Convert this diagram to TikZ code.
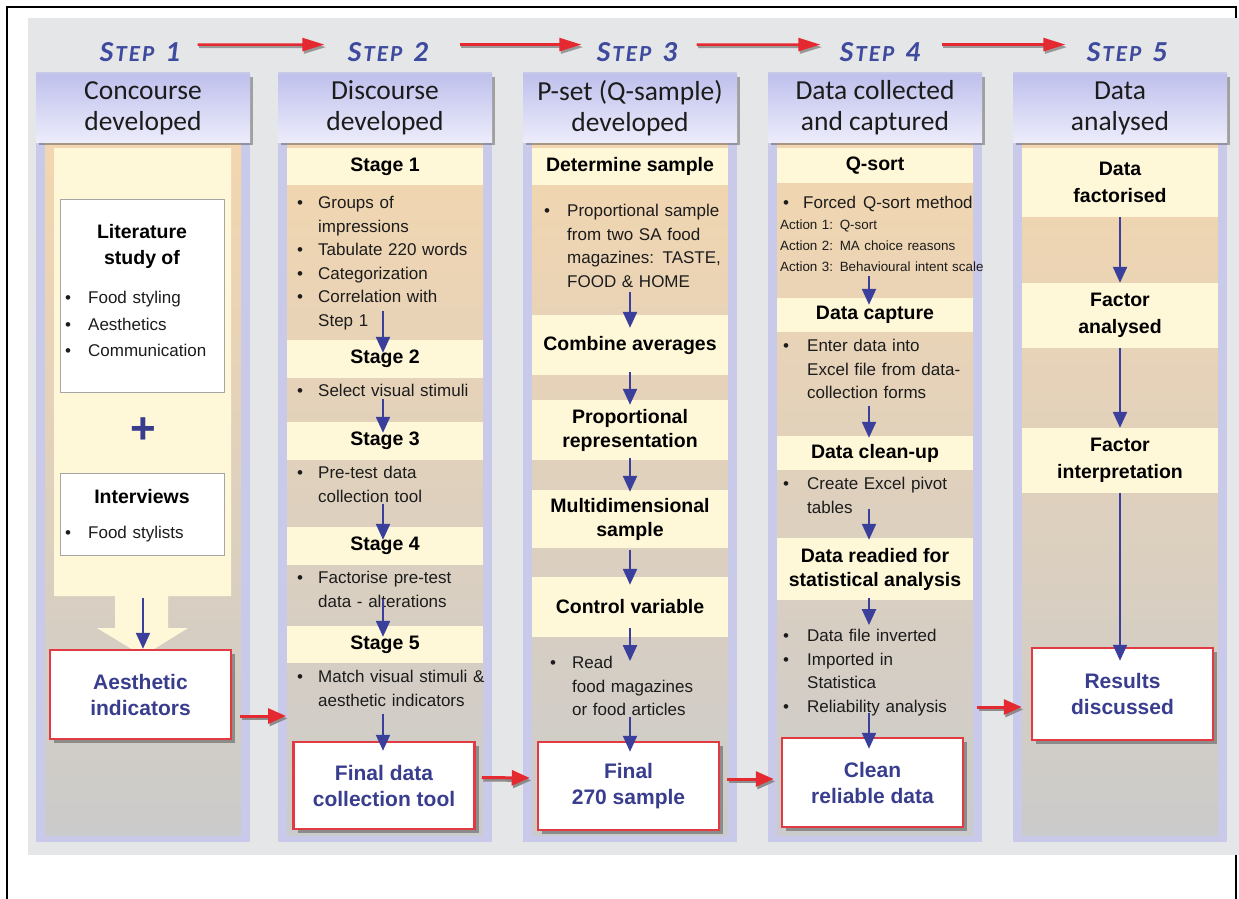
\documentclass[tikz,border=0pt]{standalone}
\usepackage{fontspec}
\setmainfont{Liberation Sans}
\newfontfamily\hdfont{Carlito}
\usepackage{tikz}
\usetikzlibrary{arrows.meta, positioning, calc, shadows}
\definecolor{bggrey}{HTML}{E5E6E8}
\definecolor{lav}{HTML}{C9CAE9}
\definecolor{hdtop}{HTML}{BFC0EC}
\definecolor{hdbot}{HTML}{ECECFB}
\definecolor{paneltop}{HTML}{F3D6AF}
\definecolor{panelbot}{HTML}{CBCBCB}
\definecolor{bandyel}{HTML}{FFF8D8}
\definecolor{stepblue}{HTML}{3D4A9E}
\definecolor{boxblue}{HTML}{393D8E}
\definecolor{arrblue}{HTML}{3B3F9C}
\definecolor{arrred}{HTML}{E42A30}
\definecolor{boxred}{HTML}{E23A43}
\definecolor{txt}{HTML}{1C1C1C}
\newcommand{\bul}[2][21pt]{\hangindent=#1\hangafter=1\noindent\makebox[#1][l]{\textbullet}#2\par}
\newcommand{\stepname}[1]{{\fontsize{29}{29}\selectfont S}\hspace{2pt}{\fontsize{23}{23}\selectfont T\hspace{2pt}E\hspace{2pt}P}\hspace{11pt}{\fontsize{29}{29}\selectfont #1}}
\tikzset{
  hdrbox/.style={
    rectangle, minimum width=214pt, minimum height=68pt, inner sep=0pt,
    top color=hdtop, bottom color=hdbot,
    drop shadow={shadow xshift=3pt, shadow yshift=-3pt, opacity=.45, fill=black!70},
    font=\hdfont\fontsize{27.5}{31}\selectfont, align=center, text=txt,
  },
  stageband/.style={
    rectangle, fill=bandyel, minimum width=196pt, inner sep=0pt,
    font=\bfseries\fontsize{19.5}{24}\selectfont, align=center, text=black,
  },
  blist/.style={
    anchor=mid west, yshift=-4pt, inner sep=0pt, text width=205pt, align=left,
    font=\fontsize{17}{23.5}\selectfont, text=txt,
  },
  whitebox/.style={rectangle, draw=black!35, line width=0.8pt, fill=white, inner sep=0pt},
  redbox/.style={
    rectangle, draw=boxred, line width=2.5pt, fill=white,
    minimum width=181pt, minimum height=88pt,
    drop shadow={shadow xshift=4pt, shadow yshift=-4pt, opacity=.5, fill=black!70},
    font=\bfseries\fontsize{21}{26}\selectfont, text=boxblue, align=center,
  },
  steplabel/.style={font=\hdfont\bfseries\itshape, text=stepblue, anchor=base},
  blarrow/.style={draw=arrblue, line width=2.2pt, -{Triangle[length=16pt, width=14pt]}},
  rdarrow/.style={
    draw=arrred, line width=3pt, -{Triangle[length=18pt, width=15pt]},
    preaction={draw=black!45, line width=3pt, -{Triangle[length=18pt, width=15pt]},
      transform canvas={xshift=1.5pt, yshift=-2.5pt}},
  },
  steparrow/.style={
    draw=arrred, line width=2.5pt, -{Triangle[length=22pt, width=13pt]},
    preaction={draw=black!40, line width=2pt, -{Triangle[length=22pt, width=13pt]},
      transform canvas={xshift=1.5pt, yshift=-2.5pt}},
  },
}
\begin{document}
\begin{tikzpicture}[x=1pt, y=-1pt]
  \useasboundingbox (0,0) rectangle (1239,899);

  % frame and background
  \draw[line width=2pt] (7,899) -- (7,7) -- (1236,7) -- (1236,899);
  \fill[bggrey] (28,18) rectangle (1239,855);

  % columns
  \fill[lav] (36,72) rectangle (250,842);
  \fill[lav] (278,72) rectangle (492,842);
  \fill[lav] (523,72) rectangle (737,842);
  \fill[lav] (768,72) rectangle (982,842);
  \fill[lav] (1013,72) rectangle (1227,842);
  \shade[top color=paneltop, bottom color=panelbot] (45,142) rectangle (241,835);
  \shade[top color=paneltop, bottom color=panelbot] (287,142) rectangle (483,835);
  \shade[top color=paneltop, bottom color=panelbot] (532,142) rectangle (728,835);
  \shade[top color=paneltop, bottom color=panelbot] (777,142) rectangle (973,835);
  \shade[top color=paneltop, bottom color=panelbot] (1022,142) rectangle (1218,835);

  % steps
  \node[steplabel] (st1) at (140,62) {\stepname{1}};
  \node[steplabel] (st2) at (388,62) {\stepname{2}};
  \node[steplabel] (st3) at (637,62) {\stepname{3}};
  \node[steplabel] (st4) at (880,62) {\stepname{4}};
  \node[steplabel] (st5) at (1127,62) {\stepname{5}};
  \draw[steparrow, shorten <=14pt, shorten >=20pt] ([yshift=8pt]st1.east) -- ([yshift=8pt]st2.west);
  \draw[steparrow, shorten <=28pt, shorten >=12pt] ([yshift=8pt]st2.east) -- ([yshift=8pt]st3.west);
  \draw[steparrow, shorten <=16pt, shorten >=16pt] ([yshift=8pt]st3.east) -- ([yshift=8pt]st4.west);
  \draw[steparrow, shorten <=18pt, shorten >=18pt] ([yshift=8pt]st4.east) -- ([yshift=8pt]st5.west);

  % headers
  \node[hdrbox] (hd1) at (143,108) {Concourse\\developed};
  \node[hdrbox] (hd2) at (385,108) {Discourse\\developed};
  \node[hdrbox] (hd3) at (630,108) {P-set (Q-sample)\\developed};
  \node[hdrbox] (hd4) at (875,108) {Data collected\\and captured};
  \node[hdrbox] (hd5) at (1120,108) {Data\\analysed};

  % step 1
  \fill[bandyel] (54,148) -- (231,148) -- (231,596) -- (168,596) -- (168,628) -- (188,628)
    -- (143,656) -- (97,628) -- (115,628) -- (115,596) -- (54,596) -- cycle;
  \node[whitebox, minimum width=164pt, minimum height=193pt, anchor=north west] (lit) at (60,199) {};
  \node[font=\bfseries\fontsize{19.5}{26}\selectfont, align=center] (littl) at (142,246) {Literature\\study of};
  \node[blist, font=\fontsize{17}{26.5}\selectfont] (litl) at (65,297)
    {\bul[23pt]{Food styling}\bul[23pt]{Aesthetics}\bul[23pt]{Communication}};
  \node[font=\bfseries\fontsize{44}{44}\selectfont, text=boxblue] (plus) at (143,431) {+};
  \node[whitebox, minimum width=164pt, minimum height=82pt, anchor=north west] (intv) at (60,473) {};
  \node[font=\bfseries\fontsize{19.5}{24}\selectfont] (intvt) at (142,497) {Interviews};
  \node[blist] (intvl) at (65,532) {\bul[23pt]{Food stylists}};
  \node[redbox, minimum height=89pt] (aes) at (140.5,694.5) {Aesthetic\\indicators};
  \coordinate (c1tail) at (143,598);
  \draw[blarrow] (c1tail) -- (c1tail |- aes.north);

  % step 2
  \node[stageband, minimum height=37pt] (c2s1) at (385,166.5) {Stage 1};
  \node[blist] (c2l1) at (297,202) {\bul{Groups of\newline impressions}\bul{Tabulate 220 words}\bul{Categorization}\bul{Correlation with\newline Step 1}};
  \node[stageband, minimum height=38pt] (c2s2) at (385,359) {Stage 2};
  \node[blist] (c2l2) at (297,390) {\bul{Select visual stimuli}};
  \node[stageband, minimum height=38pt] (c2s3) at (385,441) {Stage 3};
  \node[blist] (c2l3) at (297,472) {\bul{Pre-test data\newline collection tool}};
  \node[stageband, minimum height=38pt] (c2s4) at (385,546) {Stage 4};
  \node[blist] (c2l4) at (297,577) {\bul{Factorise pre-test\newline data - alterations}};
  \node[stageband, minimum height=37pt] (c2s5) at (385,644.5) {Stage 5};
  \node[blist] (c2l5) at (297,676) {\bul{Match visual stimuli \&\newline aesthetic indicators}};
  \node[redbox, minimum height=87pt] (fdct) at (384,785.5) {Final data\\collection tool};
  \draw[blarrow] ($(c2l1.south -| c2s1)+(-2,-19)$) -- ($(c2s2.north)+(-2,13)$);
  \draw[blarrow] ($(c2l2.south -| c2s2)+(-2,2)$) -- ($(c2s3.north)+(-2,11)$);
  \draw[blarrow] ($(c2l3.south -| c2s3)+(-2,1)$) -- ($(c2s4.north)+(-2,13)$);
  \draw[blarrow] ($(c2l4.south -| c2s4)+(-2,-9)$) -- ($(c2s5.north)+(-2,11)$);
  \draw[blarrow] ($(c2l5.south -| c2s5)+(-2,7)$) -- ($(fdct.north -| c2s5)+(-2,10)$);

  % step 3
  \node[stageband, minimum height=37pt] (c3s1) at (630,166.5) {Determine sample};
  \node[blist] (c3l1) at (544,210) {\bul[23pt]{Proportional sample\newline from two SA food\newline magazines: TASTE,\newline FOOD \& HOME}};
  \node[stageband, minimum height=60pt] (c3s2) at (630,345) {Combine averages};
  \node[stageband, minimum height=60pt] (c3s3) at (630,430) {Proportional\\representation};
  \node[stageband, minimum height=58pt] (c3s4) at (630,519) {Multidimensional\\sample};
  \node[stageband, minimum height=60pt] (c3s5) at (630,607) {Control variable};
  \node[blist] (c3l2) at (550,662) {\bul[22pt]{Read\newline food magazines\newline or food articles}};
  \node[redbox] (f270) at (628.5,786) {Final\\270 sample};
  \draw[blarrow] ($(c3l1.south -| c3s1)+(0,4)$) -- ($(c3s2.north)+(0,13)$);
  \draw[blarrow] ($(c3s2.south)+(0,-3)$) -- ($(c3s3.north)+(0,5)$);
  \draw[blarrow] ($(c3s3.south)+(0,-2)$) -- ($(c3s4.north)+(0,2)$);
  \draw[blarrow] ($(c3s4.south)+(0,2)$) -- ($(c3s5.north)+(0,8)$);
  \draw[blarrow] ($(c3s5.south)+(0,-9)$) -- ($(c3l2.north -| c3s5)+(0,5)$);
  \draw[blarrow] ($(c3l2.south -| c3s5)+(0,1)$) -- ($(f270.north -| c3s5)+(0,11)$);

  % step 4
  \node[stageband, minimum height=35pt] (c4s1) at (875,165.5) {Q-sort};
  \node[blist] (c4l1) at (783,202) {\bul[20pt]{Forced\hspace{7pt}Q-sort method}};
  \node[blist, text width=215pt, font=\fontsize{13.4}{21}\selectfont] (c4act) at (780,223)
    {Action 1: Q-sort\newline Action 2: MA choice reasons\newline Action 3: Behavioural intent scale};
  \node[stageband, minimum height=34pt] (c4s2) at (875,315) {Data capture};
  \node[blist] (c4l2) at (783,345) {\bul[24pt]{Enter data into\newline Excel file from data-\newline collection forms}};
  \node[stageband, minimum height=34pt] (c4s3) at (875,453) {Data clean-up};
  \node[blist] (c4l3) at (783,483) {\bul[24pt]{Create Excel pivot\newline tables}};
  \node[stageband, minimum height=62pt] (c4s4) at (875,569) {Data readied for\\statistical analysis};
  \node[blist] (c4l4) at (783,635) {\bul[24pt]{Data file inverted}\bul[24pt]{Imported in\newline Statistica}\bul[24pt]{Reliability analysis}};
  \node[redbox, minimum height=89pt] (crd) at (872.5,782.5) {Clean\\reliable data};
  \draw[blarrow] ($(c4act.south -| c4s1)+(-6,4.5)$) -- ($(c4s2.north)+(-6,7)$);
  \draw[blarrow] ($(c4l2.south -| c4s2)+(-6,6.5)$) -- ($(c4s3.north)+(-6,2)$);
  \draw[blarrow] ($(c4l3.south -| c4s3)+(-6,-5)$) -- ($(c4s4.north)+(-6,2)$);
  \draw[blarrow] ($(c4s4.south)+(-6,-2)$) -- ($(c4l4.north -| c4s4)+(-6,-4)$);
  \draw[blarrow] ($(c4l4.south -| c4s4)+(-6,-2.5)$) -- ($(crd.north -| c4s4)+(-6,12)$);

  % step 5
  \node[stageband, minimum height=69pt, font=\bfseries\fontsize{19.5}{27}\selectfont] (c5s1) at (1120,182.5) {Data\\factorised};
  \node[stageband, minimum height=65pt, font=\bfseries\fontsize{19.5}{27}\selectfont] (c5s2) at (1120,315.5) {Factor\\analysed};
  \node[stageband, minimum height=65pt, font=\bfseries\fontsize{19.5}{27}\selectfont] (c5s3) at (1120,460.5) {Factor\\interpretation};
  \node[redbox, minimum height=92pt] (res) at (1122.5,694) {Results\\discussed};
  \draw[blarrow] (c5s1) -- (c5s2);
  \draw[blarrow] (c5s2) -- (c5s3);
  \draw[blarrow] (c5s3.south) -- ($(res.north -| c5s3)+(0,14)$);

  % links between steps
  \coordinate (c2in) at (286,716);
  \coordinate (c4out) at (977,707);
  \draw[rdarrow, shorten <=8pt] (aes.east |- c2in) -- (c2in);
  \draw[rdarrow, shorten <=6pt, shorten >=7pt] ([yshift=8pt]fdct.east) -- ([yshift=8pt]f270.west);
  \draw[rdarrow, shorten <=7pt, shorten >=7pt] ([yshift=7pt]f270.east) -- ([yshift=3.5pt]crd.west);
  \draw[rdarrow, shorten >=9pt] (c4out) -- (c4out -| res.west);

\end{tikzpicture}
\end{document}
